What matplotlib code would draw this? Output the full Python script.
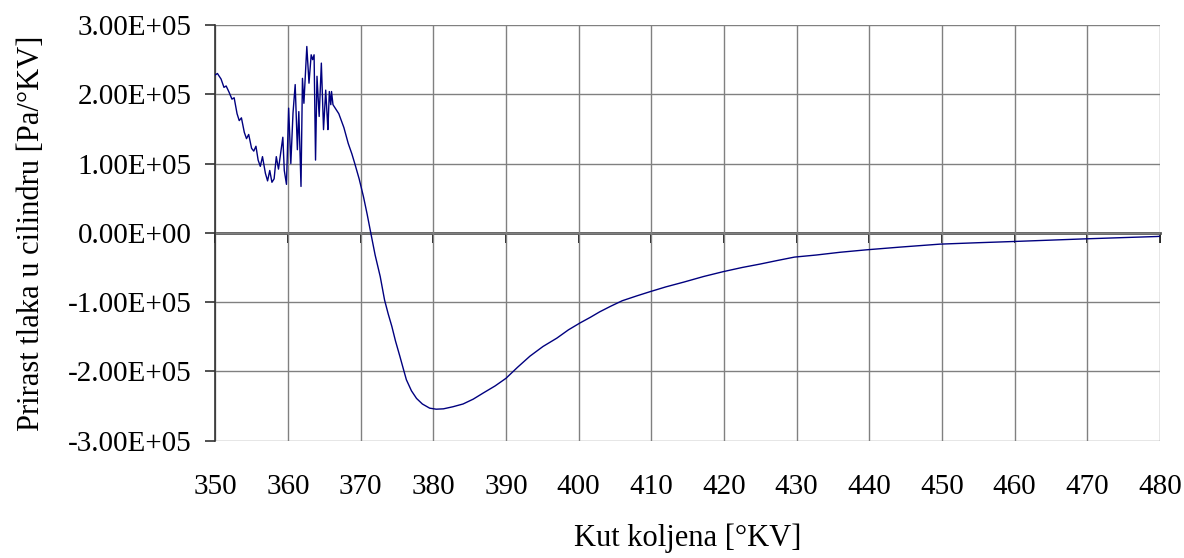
import numpy as np
import matplotlib
matplotlib.use("Agg")
import matplotlib.pyplot as plt

# crank angle [deg] and pressure rise rate [Pa/deg]
kut = [350.0, 350.3, 350.8, 351.2, 351.5, 351.9, 352.3, 352.6, 353.0, 353.3,
       353.6, 354.0, 354.3, 354.6, 355.0, 355.3, 355.6, 355.9, 356.2, 356.5,
       356.9, 357.2, 357.5, 357.8, 358.1, 358.4, 358.7, 359.0, 359.3, 359.5,
       359.8, 360.1, 360.4, 360.7, 361.0, 361.3, 361.5, 361.8, 362.0, 362.2,
       362.6, 362.9, 363.2, 363.4, 363.6, 363.8, 364.0, 364.3, 364.6, 364.9,
       365.2, 365.4, 365.5, 365.7, 365.9, 366.0, 366.2,
       367.0, 367.7, 368.3, 368.8, 369.2, 369.8, 370.4, 370.9, 371.4, 372.0,
       372.7, 373.3, 373.8, 374.3, 374.8, 375.4, 375.9, 376.3, 377.0, 377.7,
       378.5, 379.5, 380.4, 381.4, 382.7, 384.1, 385.5, 386.9, 388.5, 390.0,
       391.6, 393.3, 395.1, 397.0, 398.6, 400.2, 401.6, 402.9, 404.4, 406.0,
       408.0, 409.8, 412.0, 414.5, 417.2, 419.9, 422.5, 425.0, 427.3, 429.7,
       432.7, 436.0, 439.6, 444.2, 449.7, 454.8, 459.8, 464.7, 469.6, 474.5,
       479.5, 480.0]
prirast = [2.28, 2.30, 2.22, 2.10, 2.12, 2.03, 1.93, 1.95, 1.72, 1.62,
           1.66, 1.45, 1.36, 1.42, 1.22, 1.18, 1.25, 1.05, 0.96, 1.10,
           0.86, 0.75, 0.90, 0.73, 0.78, 1.10, 0.92, 1.15, 1.38, 0.90,
           0.70, 1.80, 1.00, 1.73, 2.14, 1.20, 1.75, 0.67, 2.23, 1.87,
           2.69, 2.16, 2.57, 2.50, 2.57, 1.05, 2.26, 1.68, 2.45, 1.49,
           2.06, 1.68, 1.49, 2.04, 1.85, 2.04, 1.85,
           1.72, 1.52, 1.29, 1.14, 1.00, 0.78, 0.52, 0.27, 0.0, -0.32,
           -0.63, -0.97, -1.17, -1.35, -1.56, -1.78, -1.97, -2.12, -2.28, -2.39,
           -2.47, -2.53, -2.545, -2.54, -2.51, -2.47, -2.40, -2.31, -2.21, -2.10,
           -1.94, -1.78, -1.64, -1.52, -1.40, -1.30, -1.22, -1.14, -1.06, -0.98,
           -0.91, -0.85, -0.78, -0.71, -0.63, -0.56, -0.50, -0.45, -0.40, -0.35,
           -0.32, -0.28, -0.245, -0.206, -0.163, -0.143, -0.125, -0.106, -0.087, -0.07,
           -0.053, -0.05]
prirast = np.array(prirast) * 1e5

xticks = np.arange(350, 481, 10)
yticks = np.arange(-3e5, 3.01e5, 1e5)
ylabels = ['-3.00E+05', '-2.00E+05', '-1.00E+05', '0.00E+00',
           '1.00E+05', '2.00E+05', '3.00E+05']

plt.rcParams['font.family'] = ['Liberation Serif', 'DejaVu Serif']

fig = plt.figure(figsize=(11.84, 5.58), dpi=100)
ax = fig.add_axes([0.1818, 0.2102, 0.7979, 0.745])

ax.plot(kut, prirast, color='#00007f', lw=1.0, zorder=3)

ax.set_xlim(350, 480)
ax.set_ylim(-3e5, 3e5)
ax.set_xticks(xticks)
ax.set_yticks(yticks)
ax.set_yticklabels(ylabels)
ax.grid(True, color='#808080', lw=1.0)
ax.set_axisbelow(True)

for s in ['top', 'right', 'bottom']:
    ax.spines[s].set_visible(False)
ax.spines['left'].set_color('#333333')
ax.spines['left'].set_linewidth(1.2)

ax.tick_params(axis='x', length=0, labelsize=21, pad=24)
ax.tick_params(axis='y', length=7, width=1.2, color='#333333', labelsize=21, pad=10)

# x axis crossing at zero with small ticks below
sec = ax.secondary_xaxis(0.5)
sec.set_alignment('bottom')
sec.set_xticks(xticks)
sec.set_xticklabels([])
sec.tick_params(axis='x', length=7, width=1.2, color='black', direction='out')
sec.spines['bottom'].set_color('#555555')
sec.spines['bottom'].set_linewidth(2.0)

ax.set_xlabel('Kut koljena [°KV]', fontsize=22, labelpad=17)
ax.set_ylabel('Prirast tlaka u cilindru [Pa/°KV]', fontsize=22, labelpad=16)

fig.savefig('out.png', dpi=100)
